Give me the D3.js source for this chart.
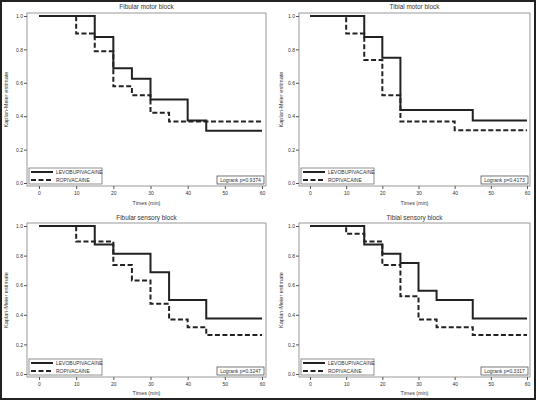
<!DOCTYPE html>
<html><head><meta charset="utf-8">
<script src="https://cdn.jsdelivr.net/npm/d3@7"></script>
<style>body{margin:0;background:#fff}svg{display:block}text{font-family:"Liberation Sans",Arial,sans-serif;fill:#333}</style>
</head><body><svg id="c" width="536" height="400"></svg>
<script>
const panelTitles = ["Fibular motor block","Tibial motor block","Fibular sensory block","Tibial sensory block"];
const pValues = ["0.9374","0.4173","0.3247","0.3317"];
const seriesNames = ["LEVOBUPIVACAINE","ROPIVACAINE"];
const xTicks = [0,10,20,30,40,50,60];
const yTicks = [0,0.2,0.4,0.6,0.8,1.0];

const fmLevoT=[0,15,20,25,30,40,45,60], fmLevoS=[1,0.875,0.6875,0.625,0.5,0.375,0.3125,0.3125];
const fmRopiT=[0,10,15,20,25,30,35,60], fmRopiS=[1,0.895,0.789,0.579,0.526,0.421,0.368,0.368];
const tmLevoT=[0,15,20,25,45,60], tmLevoS=[1,0.875,0.75,0.4375,0.375,0.375];
const tmRopiT=[0,10,15,20,25,40,60], tmRopiS=[1,0.895,0.737,0.526,0.368,0.316,0.316];
const fsLevoT=[0,15,20,30,35,45,60], fsLevoS=[1,0.875,0.8125,0.6875,0.5,0.375,0.375];
const fsRopiT=[0,10,20,25,30,35,40,45,60], fsRopiS=[1,0.895,0.737,0.632,0.474,0.368,0.316,0.263,0.263];
const tsLevoT=[0,15,20,25,30,35,45,60], tsLevoS=[1,0.875,0.8125,0.75,0.5625,0.5,0.375,0.375];
const tsRopiT=[0,10,15,20,25,30,35,45,60], tsRopiS=[1,0.947,0.895,0.737,0.526,0.368,0.316,0.263,0.263];

const panelData = [
  [[fmLevoT,fmLevoS],[fmRopiT,fmRopiS]],
  [[tmLevoT,tmLevoS],[tmRopiT,tmRopiS]],
  [[fsLevoT,fsLevoS],[fsRopiT,fsRopiS]],
  [[tsLevoT,tsLevoS],[tsRopiT,tsRopiS]]
];

const cols=[{fx0:27,fx1:266,x0:39,x1:262,ylab:8},{fx0:299,fx1:530,x0:310,x1:527,ylab:283}];
const rows=[{fy0:13,fy1:186,y1:16,y0:183,title:9,xlab:205},{fy0:223,fy1:377,y1:226,y0:374,title:220,xlab:395}];

const svg=d3.select("#c");
svg.append("rect").attr("x",1).attr("y",1).attr("width",534).attr("height",398)
  .attr("fill","none").attr("stroke","#222").attr("stroke-width",2);

const lineCol="#222";
panelData.forEach((pd,i)=>{
  const c=cols[i%2], r=rows[Math.floor(i/2)];
  const x=d3.scaleLinear().domain([0,60]).range([c.x0,c.x1]);
  const y=d3.scaleLinear().domain([0,1]).range([r.y0,r.y1]);
  const g=svg.append("g");
  g.append("rect").attr("x",c.fx0).attr("y",r.fy0).attr("width",c.fx1-c.fx0).attr("height",r.fy1-r.fy0)
    .attr("fill","none").attr("stroke","#999").attr("stroke-width",1);
  g.append("text").attr("x",(c.fx0+c.fx1)/2).attr("y",r.title).attr("text-anchor","middle")
    .attr("font-size",6.4).text(panelTitles[i]);
  const xa=g.append("g").attr("transform",`translate(0,${r.fy1})`)
    .call(d3.axisBottom(x).tickValues(xTicks).tickSize(3).tickSizeOuter(0).tickFormat(d3.format("d")));
  xa.select(".domain").remove();
  xa.selectAll("line").attr("stroke","#555");
  xa.selectAll("text").attr("font-size",5).attr("dy","0.9em").attr("y",4);
  const ya=g.append("g").attr("transform",`translate(${c.fx0},0)`)
    .call(d3.axisLeft(y).tickValues(yTicks).tickSize(3).tickSizeOuter(0).tickFormat(d3.format(".1f")));
  ya.select(".domain").remove();
  ya.selectAll("line").attr("stroke","#555");
  ya.selectAll("text").attr("font-size",5).attr("x",-4);
  g.append("text").attr("x",(c.fx0+c.fx1)/2).attr("y",r.xlab).attr("text-anchor","middle")
    .attr("font-size",5.3).text("Times (min)");
  g.append("text").attr("transform",`translate(${c.ylab},${(r.fy0+r.fy1)/2}) rotate(-90)`)
    .attr("text-anchor","middle").attr("font-size",5.6).text("Kaplan-Meier estimate");
  const line=d3.line().x((d,k)=>x(d[0])).y(d=>y(d[1])).curve(d3.curveStepAfter);
  pd.forEach((s,k)=>{
    const pts=s[0].map((t,j)=>[t,s[1][j]]);
    g.append("path").attr("d",line(pts)).attr("fill","none").attr("stroke",lineCol)
      .attr("stroke-width",2).attr("stroke-dasharray",k===1?"5,2.5":null);
  });
  // legend
  const lx=c.fx0+2, ly=r.fy1-18;
  g.append("rect").attr("x",lx).attr("y",ly).attr("width",73).attr("height",16)
    .attr("fill","#fff").attr("stroke","#777").attr("stroke-width",0.8);
  seriesNames.forEach((n,k)=>{
    const yy=ly+4+k*8;
    g.append("line").attr("x1",lx+2).attr("x2",lx+24).attr("y1",yy).attr("y2",yy)
      .attr("stroke",lineCol).attr("stroke-width",2).attr("stroke-dasharray",k===1?"5,2.5":null);
    g.append("text").attr("x",lx+27).attr("y",yy+1.8).attr("font-size",5).text(n);
  });
  // logrank box
  const bw=47, bh=8, bx=c.fx1-2-bw, by=r.fy1-2-bh;
  g.append("rect").attr("x",bx).attr("y",by).attr("width",bw).attr("height",bh)
    .attr("fill","#fff").attr("stroke","#555").attr("stroke-width",0.8);
  g.append("text").attr("x",bx+bw/2).attr("y",by+bh/2+1.8).attr("text-anchor","middle")
    .attr("font-size",5).text("Logrank p="+pValues[i]);
});
</script></body></html>
